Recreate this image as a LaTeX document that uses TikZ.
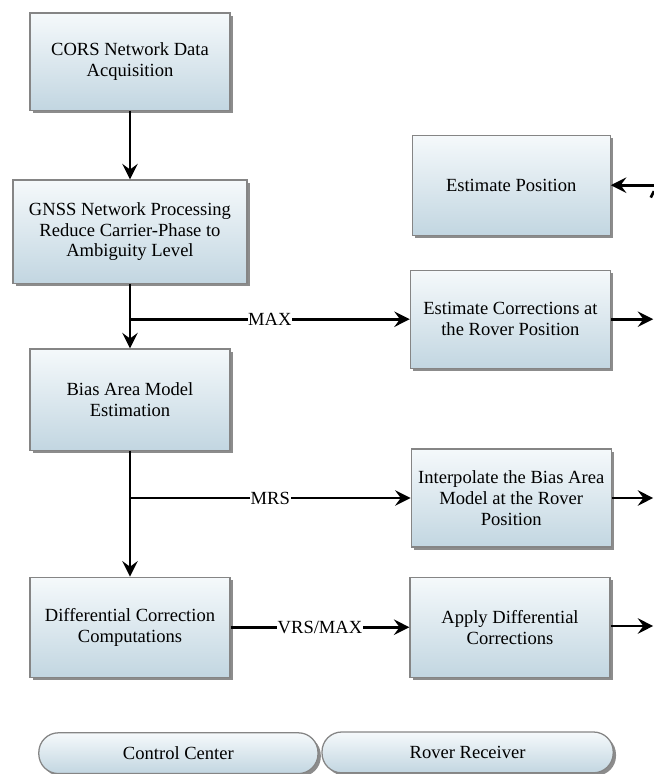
\documentclass[tikz,border=0pt]{standalone}
\usepackage{fontspec}
\setmainfont{Liberation Serif}
\usepackage{tikz}
\usetikzlibrary{%
        arrows.meta,
        shadows
    }
\definecolor{boxtop}{HTML}{F5F9FB}
\definecolor{boxbottom}{HTML}{C2D6E1}
\definecolor{boxline}{HTML}{858585}
\newcommand{\boxfont}{\fontsize{13.2pt}{14.8pt}\selectfont}
\tikzset{%
    procbox/.style={%
        draw=boxline, line width=0.9pt,
        top color=boxtop, bottom color=boxbottom,
        drop shadow={shadow xshift=2pt, shadow yshift=-2pt,
            fill=black, opacity=0.45},
        minimum width=5cm, minimum height=2.5cm,
        align=center, font=\boxfont
    },
    tabbar/.style={%
        procbox, rounded corners=14pt,
        minimum height=1.02cm
    },
    flow/.style={%
        line width=1.9pt,
        -{Stealth[length=11pt, width=11pt, inset=4pt]}
    },
    lbl/.style={fill=white, inner sep=0.5pt, font=\boxfont}
}

\begin{document}
\begin{tikzpicture}

    \useasboundingbox (0, 0) rectangle (16.35, -19.35);

    % Control center
    \node[procbox, minimum height=2.43cm] (cors) at (3.25, -1.54)
        {CORS Network Data\\Acquisition};
    \node[procbox, minimum width=5.85cm, minimum height=2.58cm] (gnss)
        at (3.25, -5.79)
        {GNSS Network Processing\\Reduce Carrier-Phase to\\Ambiguity Level};
    \node[procbox, minimum height=2.53cm] (bias) at (3.25, -9.99)
        {Bias Area Model\\Estimation};
    \node[procbox] (diff) at (3.25, -15.68)
        {Differential Correction\\Computations};

    % Rover receiver
    \node[procbox, minimum width=4.95cm] (estpos) at (12.78, -4.63)
        {Estimate Position};
    \node[procbox, minimum height=2.45cm] (estcorr) at (12.76, -7.98)
        {Estimate Corrections at\\the Rover Position};
    \node[procbox, minimum height=2.45cm] (interp) at (12.78, -12.45)
        {Interpolate the Bias Area\\Model at the Rover\\Position};
    \node[procbox] (apply) at (12.75, -15.68)
        {Apply Differential\\Corrections};

    % Bottom tabs
    \node[tabbar, minimum width=6.98cm] (control) at (4.46, -18.83)
        {Control Center};
    \node[tabbar, minimum width=7.28cm] (rover) at (11.69, -18.81)
        {Rover Receiver};

    %%% Connectors
    \draw[flow] (cors) -- (gnss);
    \draw[flow] (gnss) -- (bias);
    \draw[flow] (bias) -- (diff);

    \draw[flow] (gnss.south |- estcorr.west)
        -- node[lbl] {MAX} (estcorr.west);
    \draw[flow] (bias.south |- interp.west)
        -- node[lbl] {MRS} (interp.west);
    \draw[flow] (diff.east)
        -- node[lbl] {VRS/MAX} (diff.east -| apply.west);

    % Out of the picture on the right
    \coordinate (edge-pos) at (16.35, -4.63);
    \coordinate (edge-corr) at (16.33, -7.98);
    \coordinate (edge-interp) at (16.33, -12.45);
    \coordinate (edge-apply) at (16.33, -15.65);

    \draw[flow] (edge-pos) -- (estpos.east);
    \draw[line width=1.9pt] (16.27, -4.94) -- (16.35, -4.78);
    \draw[flow] (estcorr.east) -- (edge-corr);
    \draw[flow] (interp.east) -- (edge-interp);
    \draw[flow] (apply.east |- edge-apply) -- (edge-apply);

\end{tikzpicture}
\end{document}
